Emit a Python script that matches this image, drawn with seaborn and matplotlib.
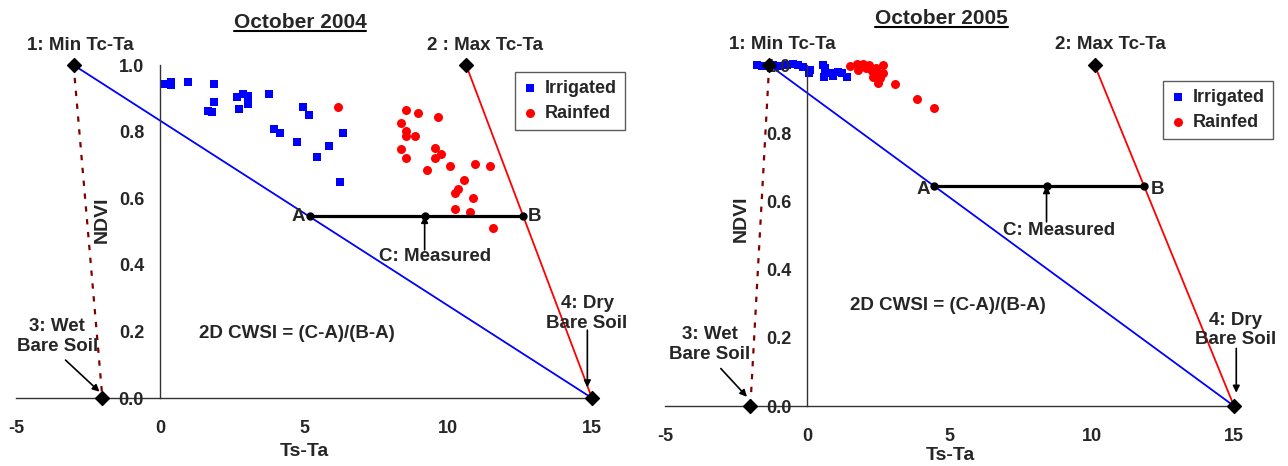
import numpy as np
import pandas as pd
import matplotlib
matplotlib.use("Agg")
import matplotlib.pyplot as plt
import seaborn as sns
from matplotlib.lines import Line2D

sns.set_style("white")
plt.rcParams['font.family'] = ['Liberation Sans', 'DejaVu Sans']
plt.rcParams['font.weight'] = 'bold'

# ---------------- data ----------------
titles = ["October 2004", "October 2005"]
xticks = [-5, 0, 5, 10, 15]
yticks = [0.0, 0.2, 0.4, 0.6, 0.8, 1.0]

# October 2004
irr04_x = [0.17, 0.37, 0.37, 0.98, 1.89, 1.89, 1.68, 1.79, 2.69, 2.87, 3.07, 3.07,
           2.76, 3.77, 4.97, 5.17, 3.97, 4.17, 4.77, 5.87, 5.46, 6.35, 6.26]
irr04_y = [0.942, 0.949, 0.940, 0.950, 0.943, 0.889, 0.863, 0.858, 0.905, 0.912, 0.907, 0.882,
           0.869, 0.913, 0.875, 0.850, 0.808, 0.795, 0.768, 0.757, 0.725, 0.797, 0.648]
rain04_x = [6.17, 8.55, 8.96, 9.65, 8.36, 8.55, 8.55, 8.85, 8.36, 8.55, 9.56, 9.77,
            9.56, 9.26, 10.06, 10.95, 11.46, 10.56, 10.36, 10.25, 10.86, 10.25, 10.75, 11.55]
rain04_y = [0.875, 0.865, 0.857, 0.843, 0.826, 0.803, 0.786, 0.787, 0.747, 0.720, 0.750, 0.734,
            0.721, 0.686, 0.697, 0.703, 0.697, 0.655, 0.627, 0.615, 0.600, 0.569, 0.560, 0.511]

# October 2005
irr05_x = [-1.78, -1.60, -1.20, -0.95, -0.70, -0.49, -0.32, -0.14, 0.07, 0.09, 0.56, 0.62,
           0.62, 0.60, 0.86, 0.91, 1.09, 1.21, 1.38]
irr05_y = [1.000, 0.998, 1.000, 0.998, 1.000, 1.004, 1.000, 0.995, 0.978, 0.985, 1.000, 0.990,
           0.976, 0.966, 0.976, 0.968, 0.980, 0.976, 0.966]
rain05_x = [1.50, 1.74, 1.79, 1.97, 2.05, 2.18, 2.26, 2.32, 2.40, 2.50, 2.65, 2.67,
            2.56, 2.50, 3.08, 3.87, 4.45]
rain05_y = [0.997, 1.003, 0.985, 1.003, 0.990, 1.000, 0.983, 0.966, 0.990, 0.976, 1.000, 0.977,
            0.961, 0.948, 0.943, 0.900, 0.873]

# corner points of the trapezoid: (1) min Tc-Ta, (2) max Tc-Ta, (3) wet bare soil, (4) dry bare soil
p1_04 = (-3.0, 1.0); p2_04 = (10.63, 1.0); p3_04 = (-2.0, 0.0); p4_04 = (15.0, 0.0)
p1_05 = (-1.34, 1.0); p2_05 = (10.1, 1.0); p3_05 = (-2.0, 0.0); p4_05 = (15.0, 0.0)
# A, C, B measurement segment (ndvi, xA, xC, xB)
abc_04 = (0.547, 5.20, 9.19, 12.60)
abc_05 = (0.645, 4.47, 8.41, 11.84)

panels = [
    dict(title=titles[0], irr=(irr04_x, irr04_y), rain=(rain04_x, rain04_y),
         p1=p1_04, p2=p2_04, p3=p3_04, p4=p4_04, abc=abc_04,
         pos=[0.00124, 0.0386, 0.4919, 0.929],
         title_xy=(0.2329, 0.9517), lab1="1: Min Tc-Ta", lab2="2 : Max Tc-Ta",
         lab1_xy=(-2.78, 1.06), lab2_xy=(11.27, 1.06),
         A_xy=(4.8, 0.544), B_xy=(13.01, 0.544), Cm_xy=(9.56, 0.424), Carr=(0.445,),
         cwsi_xy=(4.76, 0.194), wet_xy=(-3.57, 0.184), wet_arr=((-3.28, 0.114), (-2.1, 0.019)),
         dry_xy=(14.83, 0.254), dry_arr=((14.84, 0.204), (14.84, 0.032)),
         ndvi_xy=(-2.0, 0.535), tsta_xy=(5.0, -0.161), leg=(12.33, 0.98)),
    dict(title=titles[1], irr=(irr05_x, irr05_y), rain=(rain05_x, rain05_y),
         p1=p1_05, p2=p2_05, p3=p3_05, p4=p4_05, abc=abc_05,
         pos=[0.5053, 0.0189, 0.4859, 0.9513],
         title_xy=(0.7312, 0.9600), lab1="1: Min Tc-Ta", lab2="2: Max Tc-Ta",
         lab1_xy=(-0.89, 1.061), lab2_xy=(10.67, 1.061),
         A_xy=(4.08, 0.635), B_xy=(12.31, 0.635), Cm_xy=(8.85, 0.516), Carr=(0.54,),
         cwsi_xy=(4.95, 0.296), wet_xy=(-3.43, 0.18), wet_arr=((-3.04, 0.11), (-2.12, 0.027)),
         dry_xy=(15.07, 0.223), dry_arr=((15.08, 0.169), (15.08, 0.039)),
         ndvi_xy=(-2.31, 0.548), tsta_xy=(5.02, -0.144), leg=(12.5, 0.954)),
]

fig = plt.figure(figsize=(12.88, 4.66), dpi=100)
TXT = 13.5
title_texts = []

for P in panels:
    ax = fig.add_axes(P['pos'])
    ax.set_xlim(-5.5, 16.5)
    ax.set_ylim(-0.15, 1.15)
    ax.patch.set_alpha(0)

    df_i = pd.DataFrame({'x': P['irr'][0], 'y': P['irr'][1]})
    df_r = pd.DataFrame({'x': P['rain'][0], 'y': P['rain'][1]})
    sns.scatterplot(data=df_i, x='x', y='y', marker='s', s=34, color='#0000FF',
                    linewidth=0, ax=ax, zorder=1, label='Irrigated')
    sns.scatterplot(data=df_r, x='x', y='y', marker='o', s=42, color='#FF0000',
                    linewidth=0, ax=ax, zorder=1, label='Rainfed')

    p1, p2, p3, p4 = P['p1'], P['p2'], P['p3'], P['p4']
    ax.plot([p1[0], p4[0]], [p1[1], p4[1]], color='#0000FF', lw=1.3, zorder=2)
    ax.plot([p2[0], p4[0]], [p2[1], p4[1]], color='#FF0000', lw=1.3, zorder=2)
    ax.plot([p1[0], p3[0]], [p1[1], p3[1]], color='#800000', lw=1.6,
            linestyle=(0, (2.4, 3.4)), zorder=2)

    nd, xa, xc, xb = P['abc']
    ax.plot([xa, xb], [nd, nd], color='black', lw=2.3, zorder=3)
    ax.plot([xa, xc, xb], [nd, nd, nd], linestyle='none', marker='o', ms=5,
            color='black', zorder=4)

    dx = [p1[0], p2[0], p3[0], p4[0]]
    dy = [p1[1], p2[1], p3[1], p4[1]]
    ax.scatter(dx, dy, marker='D', s=50, color='black', zorder=5, clip_on=False)

    # axes
    for s in ['top', 'right']:
        ax.spines[s].set_visible(False)
    ax.spines['left'].set_position(('data', 0))
    ax.spines['bottom'].set_position(('data', 0))
    ax.spines['left'].set_bounds(0, 1)
    ax.spines['bottom'].set_bounds(-5, 15)
    for s in ['left', 'bottom']:
        ax.spines[s].set_color('#333333')
        ax.spines[s].set_linewidth(1.0)
    ax.set_xticks(xticks)
    ax.set_yticks(yticks)
    ax.set_xticklabels([str(t) for t in xticks])
    ax.set_yticklabels([f"{t:.1f}" for t in yticks])
    ax.tick_params(axis='x', direction='out', length=5, width=1, color='#333333',
                   pad=11, labelsize=13)
    ax.tick_params(axis='y', direction='out', length=5, width=1, color='#333333',
                   pad=6.5, labelsize=13)
    for lbl in ax.get_xticklabels() + ax.get_yticklabels():
        lbl.set_fontweight('bold')
    ax.set_axisbelow(False)
    ax.set_xlabel('')
    ax.set_ylabel('')

    # legend
    leg = ax.legend(loc='upper left', bbox_to_anchor=P['leg'], bbox_transform=ax.transData,
                    borderaxespad=0, frameon=True, fancybox=False, handlelength=0.8,
                    handletextpad=0.4, borderpad=0.45, labelspacing=0.45,
                    prop={'weight': 'bold', 'size': 13}, markerscale=1.0)
    leg.get_frame().set_edgecolor('#333333')
    leg.get_frame().set_linewidth(1.0)
    leg.set_zorder(6)

    tk = dict(fontsize=TXT, fontweight='bold', ha='center', va='center', zorder=7)
    ax.text(*P['lab1_xy'], P['lab1'], **tk)
    ax.text(*P['lab2_xy'], P['lab2'], **tk)
    ax.text(*P['A_xy'], 'A', **tk)
    ax.text(*P['B_xy'], 'B', **tk)
    ax.text(*P['Cm_xy'], 'C: Measured', **tk)
    ax.text(*P['cwsi_xy'], '2D CWSI = (C-A)/(B-A)', **tk)
    ax.text(*P['wet_xy'], '3: Wet\nBare Soil', linespacing=1.2, **tk)
    ax.text(*P['dry_xy'], '4: Dry\nBare Soil', linespacing=1.2, **tk)
    ax.text(*P['ndvi_xy'], 'NDVI', fontsize=14, fontweight='bold', rotation=90,
            ha='center', va='center', zorder=7)
    ax.text(*P['tsta_xy'], 'Ts-Ta', fontsize=14, fontweight='bold',
            ha='center', va='center', zorder=7)

    arr = dict(arrowstyle='-|>', color='black', lw=1.2, mutation_scale=10,
               shrinkA=0, shrinkB=0)
    ax.annotate('', xy=(xc, nd), xytext=(xc, P['Carr'][0]), arrowprops=arr, zorder=6)
    ax.annotate('', xy=P['wet_arr'][1], xytext=P['wet_arr'][0], arrowprops=arr, zorder=6)
    ax.annotate('', xy=P['dry_arr'][1], xytext=P['dry_arr'][0], arrowprops=arr, zorder=6)

    t = fig.text(*P['title_xy'], P['title'], fontsize=15, fontweight='bold',
                 ha='center', va='center')
    title_texts.append(t)

fig.canvas.draw()
r = fig.canvas.get_renderer()
for t in title_texts:
    bb = t.get_window_extent(renderer=r)
    inv = fig.transFigure.inverted()
    (x0, y0), (x1, _) = inv.transform([(bb.x0, bb.y0 + 1.5), (bb.x1, bb.y0)])
    fig.add_artist(Line2D([x0, x1], [y0, y0], transform=fig.transFigure,
                          color='black', lw=1.5))

fig.savefig('out.png', dpi=100)
